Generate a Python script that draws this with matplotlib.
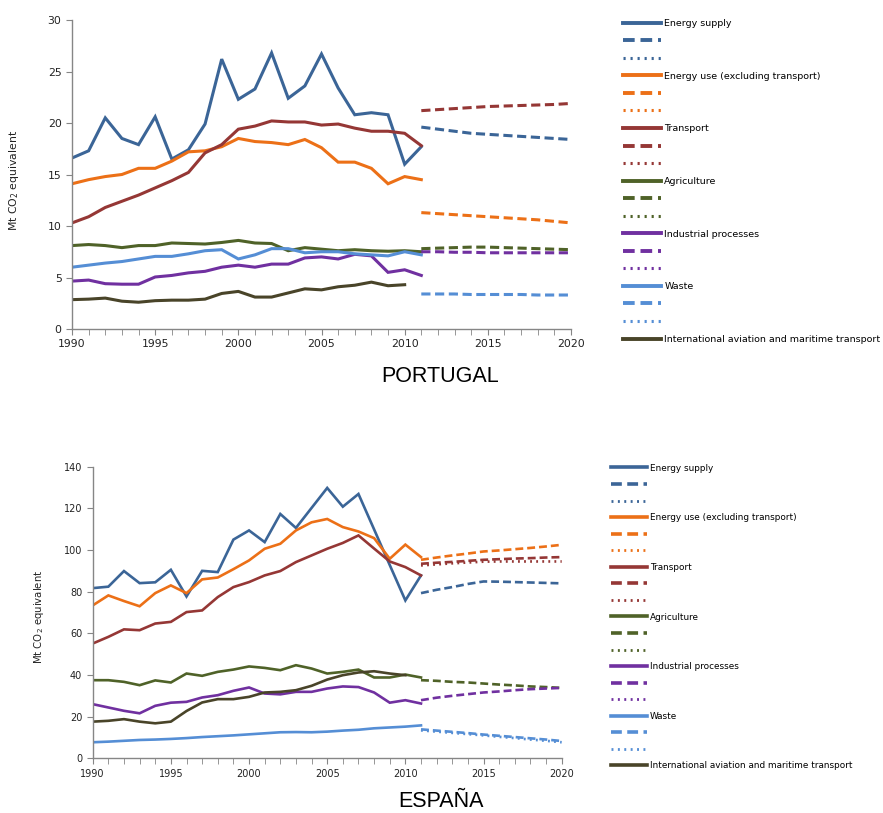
import numpy as np
import matplotlib
matplotlib.use('Agg')
import matplotlib.pyplot as plt
from matplotlib.lines import Line2D
from matplotlib.ticker import MultipleLocator

# years
hist_years = list(range(1990, 2012))
avia_years = list(range(1990, 2011))
proj_years = list(range(2011, 2021))

sectors = ['Energy supply', 'Energy use (excluding transport)', 'Transport',
           'Agriculture', 'Industrial processes', 'Waste']
aviation_label = 'International aviation and maritime transport'
colors = ['#3B6597', '#EC7017', '#953735', '#4F6228', '#7030A0', '#558ED5']
aviation_color = '#494429'

# PORTUGAL - historic
pt_energy_supply = [16.6, 17.3, 20.5, 18.5, 17.9, 20.6, 16.5, 17.4, 19.9, 26.2, 22.3,
                    23.3, 26.8, 22.4, 23.6, 26.7, 23.4, 20.8, 21.0, 20.8, 16.0, 17.7]
pt_energy_use = [14.1, 14.5, 14.8, 15.0, 15.6, 15.6, 16.3, 17.2, 17.3, 17.7, 18.5,
                 18.2, 18.1, 17.9, 18.4, 17.6, 16.2, 16.2, 15.6, 14.1, 14.8, 14.5]
pt_transport = [10.3, 10.9, 11.8, 12.4, 13.0, 13.7, 14.4, 15.2, 17.1, 17.9, 19.4,
                19.7, 20.2, 20.1, 20.1, 19.8, 19.9, 19.5, 19.2, 19.2, 19.0, 17.8]
pt_agriculture = [8.1, 8.2, 8.1, 7.9, 8.1, 8.1, 8.35, 8.3, 8.25, 8.4, 8.6,
                  8.35, 8.3, 7.6, 7.9, 7.75, 7.6, 7.7, 7.6, 7.55, 7.6, 7.5]
pt_industrial = [4.65, 4.75, 4.4, 4.35, 4.35, 5.05, 5.2, 5.45, 5.6, 6.0, 6.2,
                 6.0, 6.3, 6.3, 6.9, 7.0, 6.8, 7.25, 7.1, 5.5, 5.75, 5.2]
pt_waste = [6.0, 6.2, 6.4, 6.55, 6.8, 7.05, 7.05, 7.3, 7.6, 7.7, 6.8,
            7.2, 7.8, 7.8, 7.4, 7.5, 7.5, 7.3, 7.2, 7.1, 7.5, 7.2]
pt_aviation = [2.85, 2.9, 3.0, 2.7, 2.6, 2.75, 2.8, 2.8, 2.9, 3.45, 3.65,
               3.1, 3.1, 3.5, 3.9, 3.8, 4.1, 4.25, 4.55, 4.2, 4.3]

# PORTUGAL - projections (dashed)
pt_proj_energy_supply = [19.6, 19.4, 19.2, 19.0, 18.9, 18.8, 18.7, 18.6, 18.5, 18.4]
pt_proj_energy_use = [11.3, 11.2, 11.1, 11.0, 10.9, 10.8, 10.7, 10.6, 10.45, 10.3]
pt_proj_transport = [21.2, 21.3, 21.4, 21.5, 21.6, 21.65, 21.7, 21.75, 21.8, 21.9]
pt_proj_agriculture = [7.8, 7.85, 7.9, 7.95, 7.95, 7.9, 7.85, 7.8, 7.75, 7.7]
pt_proj_industrial = [7.5, 7.5, 7.45, 7.45, 7.4, 7.4, 7.4, 7.4, 7.4, 7.4]
pt_proj_waste = [3.4, 3.4, 3.4, 3.35, 3.35, 3.35, 3.35, 3.3, 3.3, 3.3]

# ESPAÑA - historic
es_energy_supply = [81.7, 82.4, 89.9, 84.1, 84.5, 90.5, 77.7, 90.0, 89.4, 105.0, 109.4,
                    103.8, 117.3, 110.6, 120.2, 129.8, 120.8, 126.9, 109.9, 92.8, 75.8, 87.8]
es_energy_use = [73.4, 78.2, 75.5, 73.0, 79.3, 83.0, 79.3, 85.9, 86.8, 90.8, 95.0,
                 100.6, 103.0, 109.4, 113.3, 114.9, 111.0, 108.9, 105.7, 95.8, 102.6, 96.6]
es_transport = [55.1, 58.3, 61.9, 61.5, 64.7, 65.5, 70.2, 71.0, 77.4, 82.2, 84.6,
                87.8, 89.9, 94.2, 97.4, 100.6, 103.4, 107.0, 100.7, 94.5, 91.8, 87.8]
es_agriculture = [37.5, 37.5, 36.7, 35.1, 37.4, 36.4, 40.7, 39.6, 41.5, 42.6, 44.1,
                  43.4, 42.3, 44.7, 43.1, 40.7, 41.5, 42.6, 38.8, 38.8, 40.2, 38.8]
es_industrial = [26.0, 24.4, 22.8, 21.6, 25.2, 26.7, 27.1, 29.2, 30.3, 32.4, 34.0,
                 31.1, 30.7, 31.9, 31.9, 33.5, 34.5, 34.2, 31.6, 26.7, 27.9, 26.3]
es_waste = [7.7, 8.0, 8.4, 8.8, 9.0, 9.3, 9.7, 10.2, 10.6, 11.0, 11.5,
            12.0, 12.5, 12.6, 12.5, 12.8, 13.3, 13.7, 14.4, 14.8, 15.2, 15.8]
es_aviation = [17.6, 18.0, 18.8, 17.6, 16.8, 17.6, 22.7, 26.8, 28.4, 28.4, 29.5,
               31.6, 31.9, 32.7, 34.8, 37.8, 39.9, 41.2, 41.8, 40.7, 39.9]

# ESPAÑA - projections (dashed)
es_proj_energy_supply = [79.3, 80.9, 82.2, 83.7, 84.9, 84.8, 84.6, 84.4, 84.2, 84.0]
es_proj_energy_use = [95.3, 96.4, 97.4, 98.3, 99.3, 99.8, 100.4, 101.0, 101.7, 102.5]
es_proj_transport = [93.4, 93.9, 94.3, 94.8, 95.3, 95.6, 95.9, 96.1, 96.4, 96.6]
es_proj_agriculture = [37.5, 37.2, 36.7, 36.4, 35.9, 35.4, 35.0, 34.5, 34.2, 33.8]
es_proj_industrial = [27.9, 29.1, 30.0, 30.8, 31.6, 32.1, 32.7, 33.2, 33.5, 33.8]
es_proj_waste = [13.9, 13.3, 12.7, 12.1, 11.4, 10.8, 10.2, 9.6, 9.0, 8.3]
# ESPAÑA - dotted projections (only the visible ones)
es_dot_transport = [92.6, 93.1, 93.6, 94.0, 94.4, 94.5, 94.5, 94.5, 94.5, 94.5]
es_dot_waste = [13.4, 12.8, 12.2, 11.6, 11.0, 10.3, 9.7, 9.0, 8.4, 7.7]

DASH = (0, (3, 1.5))
DOT = (0, (0.7, 1.6))
GREY = '#868686'


def draw_panel(ax, hist, avia, proj, dots, ymax, ystep, lw, fs, lab_fs):
    for vals, c in zip(hist, colors):
        ax.plot(hist_years, vals, color=c, lw=lw, solid_joinstyle='miter')
    ax.plot(avia_years, avia, color=aviation_color, lw=lw)
    for vals, c in zip(proj, colors):
        ax.plot(proj_years, vals, color=c, lw=lw, linestyle=DASH)
    for idx, vals in dots:
        ax.plot(proj_years, vals, color=colors[idx], lw=lw, linestyle=DOT)
    ax.set_xlim(1990, 2020)
    ax.set_ylim(0, ymax)
    ax.xaxis.set_major_locator(MultipleLocator(5))
    ax.xaxis.set_minor_locator(MultipleLocator(1))
    ax.yaxis.set_major_locator(MultipleLocator(ystep))
    for s in ['top', 'right']:
        ax.spines[s].set_visible(False)
    for s in ['left', 'bottom']:
        ax.spines[s].set_color(GREY)
        ax.spines[s].set_linewidth(1)
    ax.tick_params(which='both', direction='out', color=GREY, labelsize=fs,
                   labelcolor='#222222', length=4)
    ax.set_ylabel('Mt CO$_2$ equivalent', fontsize=lab_fs, color='#222222')


def add_legend(fig, x, y, fs, lw, spacing):
    handles, labels = [], []
    for name, c in zip(sectors, colors):
        handles.append(Line2D([], [], color=c, lw=lw + 0.6))
        labels.append(name)
        handles.append(Line2D([], [], color=c, lw=lw + 0.6, linestyle=DASH))
        labels.append(' ')
        handles.append(Line2D([], [], color=c, lw=lw, linestyle=DOT))
        labels.append(' ')
    handles.append(Line2D([], [], color=aviation_color, lw=lw + 0.6))
    labels.append(aviation_label)
    fig.legend(handles, labels, loc='upper left', bbox_to_anchor=(x, y),
               frameon=False, fontsize=fs, handlelength=4.1, handletextpad=0.3,
               labelspacing=spacing, borderpad=0, borderaxespad=0)


W, H = 883, 813
fig = plt.figure(figsize=(W / 100, H / 100), dpi=100)

ax1 = fig.add_axes([72 / W, 1 - 329 / H, 499 / W, 309 / H])
draw_panel(ax1,
           [pt_energy_supply, pt_energy_use, pt_transport, pt_agriculture,
            pt_industrial, pt_waste],
           pt_aviation,
           [pt_proj_energy_supply, pt_proj_energy_use, pt_proj_transport,
            pt_proj_agriculture, pt_proj_industrial, pt_proj_waste],
           [], 30, 5, 2.2, 7.8, 7.8)
ax1.yaxis.set_label_coords(-0.102, 0.48)

ax2 = fig.add_axes([92.7 / W, 1 - 758.3 / H, 469 / W, 291.6 / H])
draw_panel(ax2,
           [es_energy_supply, es_energy_use, es_transport, es_agriculture,
            es_industrial, es_waste],
           es_aviation,
           [es_proj_energy_supply, es_proj_energy_use, es_proj_transport,
            es_proj_agriculture, es_proj_industrial, es_proj_waste],
           [(2, es_dot_transport), (5, es_dot_waste)], 140, 20, 1.9, 7.0, 7.3)
ax2.yaxis.set_label_coords(-0.1, 0.485)

add_legend(fig, 622.7 / W, 1 - 19 / H, 6.8, 2.2, 0.905)
add_legend(fig, 610.7 / W, 1 - 463.5 / H, 6.4, 2.0, 0.85)

fig.text(440 / W, 1 - 376 / H, 'PORTUGAL', ha='center', va='center',
         fontsize=15.5, family='Liberation Sans')
fig.text(441 / W, 1 - 801 / H, 'ESPAÑA', ha='center', va='center',
         fontsize=15.5, family='Liberation Sans')

fig.savefig('out.png', dpi=100)
